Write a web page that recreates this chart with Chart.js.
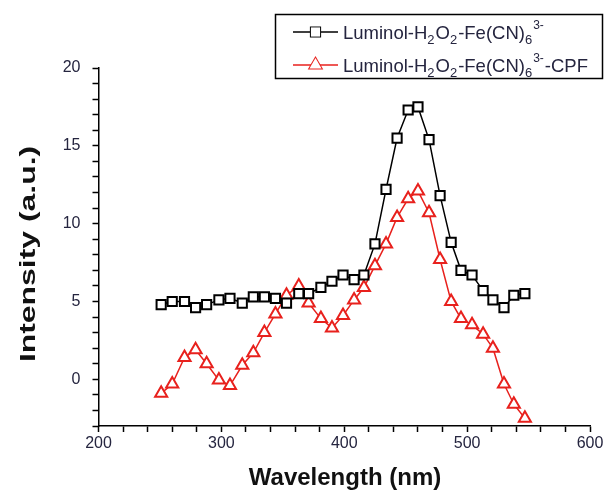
<!DOCTYPE html>
<html lang="en">
<head>
    <meta charset="UTF-8">
    <title>Intensity vs wavelength</title>
    <script src="https://cdn.jsdelivr.net/npm/chart.js"></script>
    <style>
        html, body { margin: 0; padding: 0; background: #ffffff; }
        .chart-box { width: 607px; height: 494px; }
    </style>
</head>
<body>
    <div class="chart-box">
        <canvas id="specChart"></canvas>
    </div>
    <script>
        // data
        const wavelength = [251, 260, 270, 279, 288, 298, 307, 317, 326, 335, 344, 353, 363, 371, 381, 390, 399,
                            408, 416, 425, 434, 443, 452, 460, 469, 478, 487, 495, 504, 513, 521, 530, 538, 547];
        const controlIntensity = [4.8, 5.0, 5.0, 4.6, 4.8, 5.1, 5.2, 4.9, 5.3, 5.3, 5.2, 4.9, 5.5, 5.5, 5.9, 6.3, 6.7,
                                  6.4, 6.7, 8.7, 12.2, 15.5, 17.3, 17.5, 15.4, 11.8, 8.8, 7.0, 6.7, 5.7, 5.1, 4.6, 5.4, 5.5];
        const cpfIntensity = [-0.9, -0.3, 1.4, 1.9, 1.0, -0.05, -0.4, 0.9, 1.7, 3.0, 4.2, 5.4, 6.0, 4.9, 3.9, 3.3, 4.1,
                              5.1, 5.9, 7.3, 8.7, 10.4, 11.6, 12.1, 10.7, 7.7, 5.0, 3.9, 3.5, 2.9, 2.0, -0.3, -1.6, -2.5];
        const xTicks = [200, 300, 400, 500, 600];
        const yTicks = [0, 5, 10, 15, 20];

        const textColor = '#25253f';
        const redColor = '#e8211d';

        function toPoints(ys) {
            return wavelength.map((x, i) => ({ x: x, y: ys[i] }));
        }

        // legend entries: pieces of text with sub / sup
        const legendItems = [
            { color: '#000000', style: 'rect', radius: 6.5,
              parts: [['Luminol-H'], ['2', 'sub'], ['O'], ['2', 'sub'], ['-Fe(CN)'], ['6', 'sub'], ['3-', 'sup']] },
            { color: redColor, style: 'triangle', radius: 7,
              parts: [['Luminol-H'], ['2', 'sub'], ['O'], ['2', 'sub'], ['-Fe(CN)'], ['6', 'sub'], ['3-', 'sup'], ['-CPF']] }
        ];

        const extrasPlugin = {
            id: 'extras',
            afterDraw(chart) {
                const ctx = chart.ctx;
                ctx.save();

                // axis titles (the y one is stretched along its length like the original)
                ctx.fillStyle = '#111111';
                ctx.font = 'bold 24px "Liberation Sans", Arial, sans-serif';
                ctx.textAlign = 'center';
                ctx.textBaseline = 'alphabetic';
                ctx.fillText('Wavelength (nm)', 345, 485);
                ctx.font = 'bold 22px "Liberation Sans", Arial, sans-serif';
                ctx.translate(35, 254);
                ctx.rotate(-Math.PI / 2);
                ctx.scale(1.45, 1);
                ctx.fillText('Intensity (a.u.)', 0, 0);
                ctx.setTransform(1, 0, 0, 1, 0, 0);

                // legend box
                ctx.strokeStyle = '#000000';
                ctx.lineWidth = 1.5;
                ctx.strokeRect(275.5, 14.5, 327, 64);

                legendItems.forEach((item, i) => {
                    const cy = 32 + i * 33;
                    ctx.strokeStyle = item.color;
                    ctx.lineWidth = 1.5;
                    ctx.beginPath();
                    ctx.moveTo(293, cy);
                    ctx.lineTo(338, cy);
                    ctx.stroke();
                    ctx.fillStyle = '#ffffff';
                    ctx.lineWidth = 2;
                    Chart.helpers.drawPoint(ctx, { pointStyle: item.style, radius: item.radius, borderWidth: 2 }, 315.5, cy);
                    ctx.fill();

                    let x = 343;
                    const base = cy + 6.5;
                    ctx.textAlign = 'left';
                    ctx.fillStyle = textColor;
                    item.parts.forEach(p => {
                        let y = base;
                        if (p[1] === 'sub') {
                            ctx.font = '13px "Liberation Sans", Arial, sans-serif';
                            y = base + 5;
                        } else if (p[1] === 'sup') {
                            ctx.font = '12px "Liberation Sans", Arial, sans-serif';
                            y = base - 10;
                        } else {
                            ctx.font = '18.5px "Liberation Sans", Arial, sans-serif';
                        }
                        ctx.fillText(p[0], x, y);
                        x += ctx.measureText(p[0]).width + (p[1] ? 1 : 0);
                    });
                });
                ctx.restore();
            }
        };

        const config = {
            type: 'scatter',
            data: {
                datasets: [{
                    label: 'Luminol-H2O2-Fe(CN)6 3-',
                    data: toPoints(controlIntensity),
                    showLine: true,
                    borderColor: '#000000',
                    borderWidth: 1.5,
                    pointStyle: 'rect',
                    pointRadius: 6.5,
                    pointBorderWidth: 2,
                    pointBackgroundColor: '#ffffff',
                    pointBorderColor: '#000000'
                }, {
                    label: 'Luminol-H2O2-Fe(CN)6 3- -CPF',
                    data: toPoints(cpfIntensity),
                    showLine: true,
                    borderColor: redColor,
                    borderWidth: 1.5,
                    pointStyle: 'triangle',
                    pointRadius: 7,
                    pointBorderWidth: 2,
                    pointBackgroundColor: '#ffffff',
                    pointBorderColor: redColor
                }]
            },
            options: {
                responsive: true,
                maintainAspectRatio: false,
                animation: false,
                layout: { padding: { left: 0, right: 17, top: 68, bottom: 0 } },
                scales: {
                    x: {
                        type: 'linear',
                        min: 200,
                        max: 600,
                        afterFit(scale) { scale.height = 68; },
                        ticks: {
                            stepSize: 20,
                            autoSkip: false,
                            maxRotation: 0,
                            padding: 2,
                            color: textColor,
                            font: { family: '"Liberation Sans", Arial', size: 16 },
                            callback: v => xTicks.includes(v) ? String(v) : ''
                        },
                        grid: { drawOnChartArea: false, tickLength: 6, color: '#000000', tickWidth: 1.5 },
                        border: { color: '#000000', width: 1.5 }
                    },
                    y: {
                        min: -3,
                        max: 20,
                        afterFit(scale) { scale.width = 98.5; },
                        ticks: {
                            stepSize: 1,
                            autoSkip: false,
                            padding: 12,
                            color: textColor,
                            font: { family: '"Liberation Sans", Arial', size: 16 },
                            callback: v => yTicks.includes(v) ? String(v) : ''
                        },
                        grid: { drawOnChartArea: false, tickLength: 6, color: '#000000', tickWidth: 1.5 },
                        border: { color: '#000000', width: 1.5 }
                    }
                },
                plugins: {
                    legend: { display: false },
                    tooltip: { enabled: false }
                }
            },
            plugins: [extrasPlugin]
        };

        const specChart = new Chart(document.getElementById('specChart'), config);
    </script>
</body>
</html>
